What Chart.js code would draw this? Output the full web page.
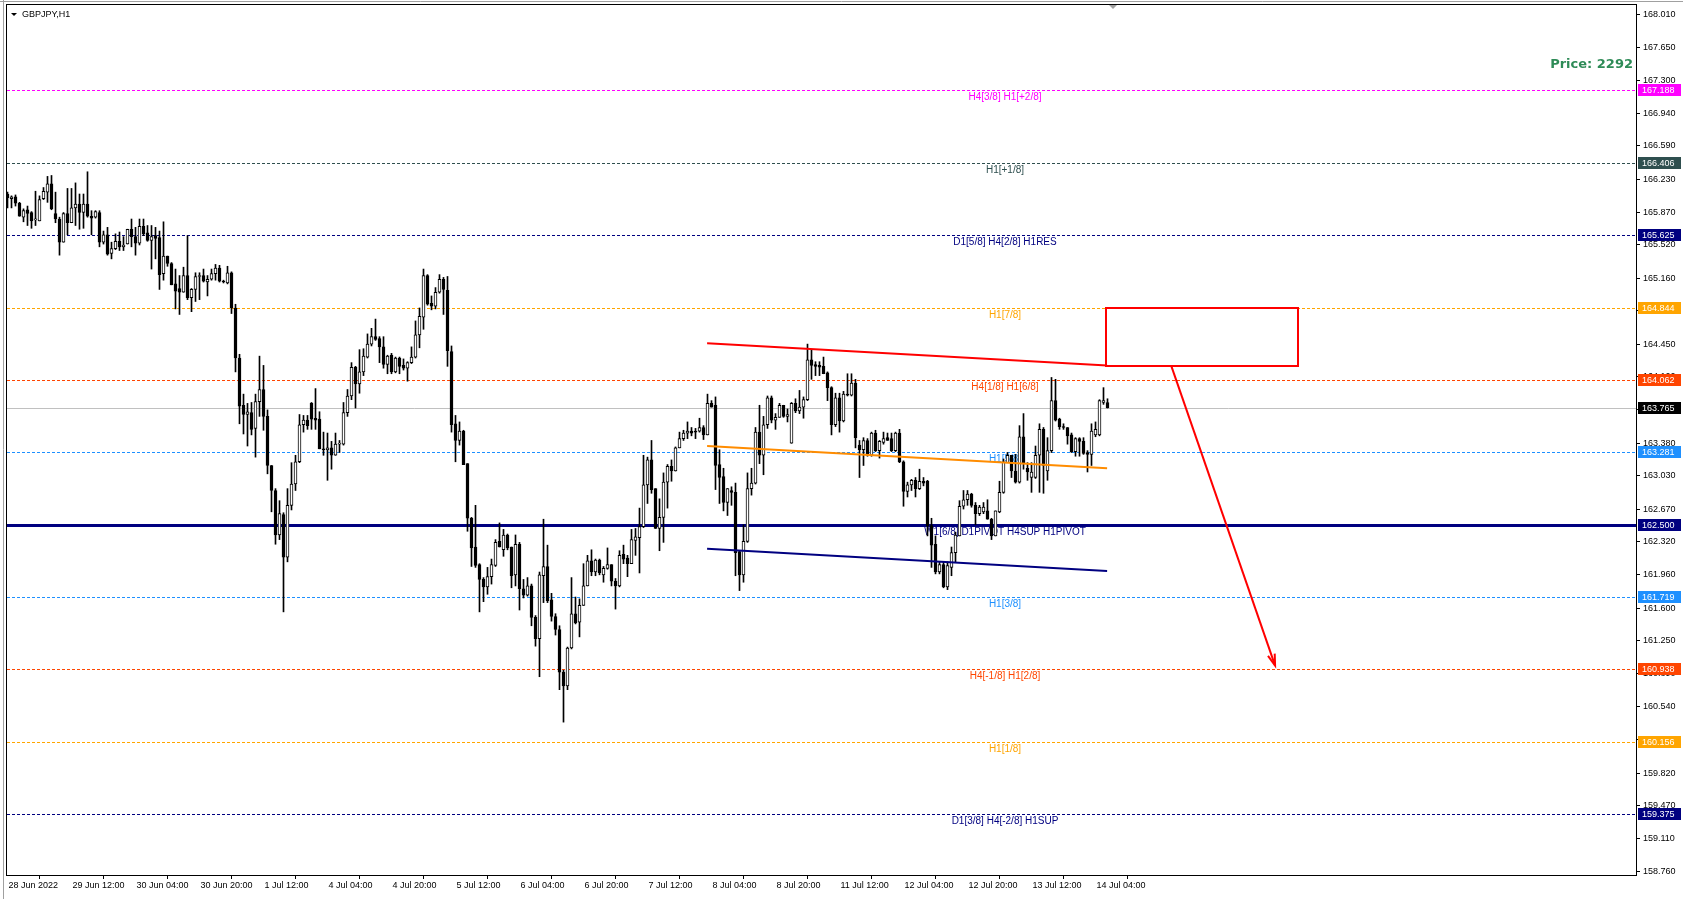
<!DOCTYPE html>
<html>
<head>
<meta charset="utf-8">
<title>GBPJPY,H1</title>
<script src="https://cdn.jsdelivr.net/npm/chart.js@4.4.1/dist/chart.umd.min.js"></script>
<style>
  html, body { margin: 0; padding: 0; background: #fff; overflow: hidden; }
  canvas { display: block; }
</style>
</head>
<body>
<canvas id="chart" width="1683" height="899"></canvas>
<script>
// GBPJPY H1, bar 0 = 28 Jun 2022 20:00, last bar = 14 Jul 07:00
const openPrices = [
  166.07,166.02,166.04,165.97,165.82,165.90,165.87,165.79,165.78,166.02,
  166.09,166.18,165.86,165.80,165.55,165.86,165.76,165.92,165.96,165.87,
  165.96,165.83,165.82,165.87,165.55,165.63,165.43,165.48,165.56,165.50,
  165.53,165.69,165.61,165.54,165.72,165.65,165.57,165.62,165.60,165.21,
  165.40,165.32,165.10,165.05,165.01,165.19,164.95,165.04,165.18,165.19,
  165.12,165.15,165.21,165.27,165.13,165.11,165.22,164.84,164.30,163.79,
  163.69,163.71,163.54,163.83,163.96,163.67,163.14,162.87,162.39,162.61,
  162.15,162.71,162.94,163.18,163.58,163.63,163.81,163.65,163.64,163.32,
  163.31,163.33,163.25,163.37,163.37,163.71,163.89,164.20,164.02,164.15,
  164.31,164.45,164.53,164.51,164.42,164.23,164.33,164.15,164.30,164.22,
  164.19,164.25,164.31,164.55,164.74,165.19,164.89,164.86,165.01,165.15,
  165.03,164.37,163.59,163.41,163.51,163.16,162.57,162.26,162.07,161.91,
  161.83,161.94,162.06,162.32,162.23,162.39,162.26,161.96,162.29,161.81,
  161.74,161.84,161.50,161.27,161.95,162.05,161.69,161.51,161.37,160.91,
  160.76,161.17,161.54,161.45,161.63,161.84,162.11,161.99,162.12,161.96,
  162.03,162.07,161.89,161.84,162.18,162.14,162.08,162.33,162.36,162.48,
  162.93,163.20,162.89,162.46,162.58,162.96,163.13,163.08,163.33,163.43,
  163.49,163.51,163.51,163.51,163.55,163.47,163.81,163.79,163.15,163.02,
  162.74,162.87,162.85,162.21,161.96,162.32,162.89,162.95,163.50,163.25,
  163.58,163.87,163.63,163.66,163.79,163.67,163.38,163.81,163.73,163.77,
  163.85,164.28,164.23,164.22,164.21,164.14,163.98,163.58,163.87,163.62,
  163.91,163.90,164.03,163.36,163.31,163.41,163.25,163.49,163.30,163.39,
  163.44,163.43,163.30,163.49,163.18,162.86,162.93,162.98,162.89,162.97,
  162.97,162.49,162.29,161.99,162.07,161.83,162.04,162.20,162.38,162.70,
  162.77,162.83,162.71,162.62,162.64,162.65,162.56,162.38,162.64,162.85,
  163.17,163.25,163.08,162.96,163.45,163.11,163.01,163.01,163.25,163.53,
  163.08,163.30,163.84,163.64,163.56,163.55,163.47,163.29,163.43,163.40,
  163.28,163.26,163.47,163.47,163.82,163.82
];
const highPrices = [
  166.09,166.05,166.06,165.98,165.91,165.94,165.88,166.10,166.05,166.14,
  166.26,166.27,166.09,165.82,165.87,166.13,166.13,166.19,166.07,166.07,
  166.31,165.89,165.89,165.89,165.67,165.71,165.55,165.64,165.66,165.61,
  165.69,165.80,165.71,165.80,165.80,165.73,165.73,165.71,165.67,165.77,
  165.40,165.33,165.26,165.19,165.28,165.62,165.05,165.22,165.22,165.26,
  165.19,165.26,165.31,165.30,165.14,165.29,165.23,164.88,164.34,163.91,
  163.81,163.82,163.91,164.32,164.22,163.74,163.14,162.89,162.76,162.63,
  162.89,163.17,163.25,163.69,163.68,163.68,163.82,163.97,163.72,163.50,
  163.49,163.40,163.49,163.41,163.82,163.96,164.25,164.21,164.39,164.40,
  164.56,164.62,164.72,164.53,164.53,164.33,164.35,164.31,164.31,164.29,
  164.26,164.42,164.70,164.84,165.26,165.20,164.97,165.06,165.20,165.17,
  165.18,164.43,163.68,163.61,163.52,163.16,162.58,162.71,162.08,161.93,
  162.04,162.13,162.34,162.52,162.45,162.40,162.26,162.39,162.31,161.91,
  161.93,161.86,161.52,161.99,162.56,162.28,161.76,161.54,161.41,160.93,
  161.18,161.93,161.72,161.70,162.08,162.17,162.23,162.13,162.13,162.05,
  162.25,162.07,161.92,162.22,162.28,162.17,162.45,162.46,162.68,163.25,
  163.23,163.41,162.89,162.78,163.06,163.15,163.20,163.34,163.50,163.52,
  163.61,163.55,163.54,163.65,163.57,163.91,163.84,163.88,163.31,163.11,
  162.89,162.91,162.95,162.22,162.50,163.06,163.11,163.55,163.79,163.67,
  163.89,163.89,163.70,163.81,163.79,163.75,163.82,163.86,163.95,163.88,
  164.45,164.39,164.26,164.26,164.31,164.15,163.99,163.92,163.92,163.94,
  164.13,164.13,164.07,163.41,163.44,163.43,163.50,163.52,163.41,163.50,
  163.49,163.49,163.50,163.53,163.19,162.96,162.99,163.01,163.10,163.01,
  162.98,162.57,162.38,162.10,162.10,162.10,162.26,162.42,162.76,162.87,
  162.87,162.84,162.74,162.71,162.74,162.77,162.57,162.65,162.97,163.21,
  163.28,163.25,163.26,163.57,163.70,163.17,163.17,163.35,163.59,163.55,
  163.44,164.09,164.07,163.65,163.59,163.55,163.49,163.44,163.44,163.44,
  163.30,163.59,163.61,163.85,163.98,163.86
];
const lowPrices = [
  165.92,165.92,165.94,165.83,165.77,165.73,165.70,165.73,165.78,166.01,
  165.98,165.90,165.76,165.41,165.55,165.63,165.76,165.73,165.69,165.70,
  165.82,165.63,165.81,165.50,165.53,165.41,165.37,165.47,165.46,165.46,
  165.53,165.50,165.41,165.52,165.62,165.56,165.26,165.37,165.04,165.14,
  165.29,165.09,164.83,164.77,165.01,164.93,164.80,164.91,164.93,165.12,
  164.97,165.14,165.14,165.12,165.11,165.10,164.78,164.15,163.59,163.48,
  163.35,163.47,163.23,163.67,163.52,163.05,162.64,162.29,162.34,161.56,
  162.10,162.66,162.87,163.17,163.50,163.53,163.53,163.53,163.32,163.25,
  162.98,163.10,163.25,163.28,163.36,163.67,163.85,163.76,163.92,164.11,
  164.30,164.43,164.49,164.25,164.19,164.13,164.13,164.14,164.13,164.17,
  164.05,164.24,164.30,164.41,164.61,164.87,164.82,164.83,165.00,164.77,
  164.21,163.50,163.18,163.36,163.15,162.43,162.05,162.04,161.56,161.67,
  161.75,161.86,162.05,162.26,162.16,162.23,161.82,161.84,161.58,161.71,
  161.73,161.41,161.19,160.86,161.66,161.66,161.46,161.31,160.72,160.37,
  160.72,161.16,161.43,161.29,161.63,161.84,161.95,161.95,161.96,161.88,
  162.02,161.84,161.59,161.83,162.08,161.94,162.08,162.17,161.98,162.47,
  162.73,162.84,162.46,162.22,162.31,162.68,162.97,163.08,163.33,163.41,
  163.43,163.46,163.43,163.50,163.42,163.47,163.77,162.88,162.73,162.65,
  162.60,162.71,161.95,161.79,161.88,162.31,162.82,162.94,163.16,163.04,
  163.54,163.60,163.53,163.66,163.66,163.61,163.38,163.71,163.70,163.65,
  163.84,164.07,164.11,164.11,164.13,163.84,163.47,163.56,163.50,163.61,
  163.89,163.89,163.33,163.01,163.14,163.24,163.24,163.29,163.22,163.37,
  163.41,163.29,163.29,163.17,162.70,162.80,162.87,162.80,162.88,162.92,
  162.38,162.04,161.97,161.97,161.82,161.80,161.95,162.10,162.38,162.67,
  162.71,162.69,162.50,162.60,162.62,162.56,162.34,162.38,162.63,162.84,
  163.17,163.01,162.95,162.95,163.10,162.98,162.85,163.00,162.85,162.84,
  162.98,163.28,163.62,163.53,163.53,163.37,163.28,163.24,163.24,163.26,
  163.07,163.14,163.45,163.46,163.80,163.76
];
const closePrices = [
  166.03,166.04,165.97,165.83,165.89,165.86,165.78,165.79,166.01,166.10,
  166.18,165.91,165.80,165.55,165.86,165.76,165.92,165.96,165.87,165.96,
  165.83,165.81,165.88,165.55,165.63,165.42,165.48,165.56,165.50,165.52,
  165.69,165.61,165.54,165.72,165.64,165.57,165.61,165.59,165.20,165.40,
  165.32,165.09,165.02,165.01,165.19,164.95,165.04,165.18,165.19,165.13,
  165.15,165.21,165.27,165.13,165.12,165.22,164.84,164.30,163.78,163.69,
  163.72,163.53,163.83,163.96,163.67,163.14,162.87,162.39,162.62,162.15,
  162.71,162.94,163.18,163.58,163.63,163.57,163.64,163.63,163.32,163.31,
  163.33,163.25,163.37,163.37,163.71,163.89,164.20,164.02,164.15,164.32,
  164.45,164.53,164.50,164.42,164.23,164.32,164.15,164.30,164.21,164.19,
  164.25,164.31,164.55,164.75,165.19,164.88,164.86,165.01,165.15,165.04,
  164.38,163.58,163.41,163.51,163.15,162.57,162.25,162.06,161.91,161.83,
  161.94,162.07,162.31,162.26,162.39,162.25,161.95,162.29,161.81,161.74,
  161.84,161.50,161.27,161.96,162.05,161.68,161.51,161.37,160.91,160.76,
  161.17,161.54,161.44,161.63,161.84,162.11,161.99,162.12,161.98,162.03,
  162.07,161.89,161.84,162.17,162.13,162.08,162.34,162.37,162.48,162.93,
  163.20,162.88,162.46,162.58,162.96,163.13,163.08,163.33,163.43,163.49,
  163.51,163.49,163.50,163.55,163.47,163.81,163.77,163.14,163.01,162.74,
  162.89,162.85,162.20,161.96,162.32,162.89,162.95,163.50,163.25,163.58,
  163.87,163.63,163.66,163.79,163.67,163.69,163.81,163.73,163.77,163.85,
  164.28,164.22,164.21,164.20,164.13,163.98,163.58,163.87,163.62,163.91,
  163.90,164.03,163.44,163.31,163.41,163.25,163.49,163.30,163.40,163.43,
  163.41,163.30,163.49,163.18,162.86,162.93,162.98,162.89,162.97,162.95,
  162.49,162.28,161.99,162.07,161.83,162.06,162.20,162.39,162.70,162.77,
  162.83,162.71,162.62,162.69,162.69,162.56,162.38,162.65,162.85,163.18,
  163.25,163.08,162.96,163.45,163.17,163.07,163.07,163.25,163.53,163.14,
  163.30,163.84,163.63,163.56,163.55,163.46,163.29,163.43,163.40,163.27,
  163.26,163.51,163.53,163.84,163.84,163.765
];

const xTickIdx = [0,16,32,48,64,80,96,112,128,144,160,176,192,208,224,240,256,272];
const xTickLabels = ['28 Jun 2022','29 Jun 12:00','30 Jun 04:00','30 Jun 20:00','1 Jul 12:00',
  '4 Jul 04:00','4 Jul 20:00','5 Jul 12:00','6 Jul 04:00','6 Jul 20:00','7 Jul 12:00',
  '8 Jul 04:00','8 Jul 20:00','11 Jul 12:00','12 Jul 04:00','12 Jul 20:00','13 Jul 12:00','14 Jul 04:00'];
const yTickValues = [168.010,167.650,167.300,166.940,166.590,166.230,165.870,165.520,165.160,
  164.810,164.450,164.100,163.740,163.380,163.030,162.670,162.320,161.960,161.600,161.250,
  160.890,160.540,160.180,159.820,159.470,159.110,158.760];

// Murrey-math style levels
const levelPrices = [167.188,166.406,165.625,164.844,164.062,163.281,162.500,161.719,160.938,160.156,159.375];
const levelNames = ['H4[3/8] H1[+2/8]','H1[+1/8]','D1[5/8] H4[2/8] H1RES','H1[7/8]','H4[1/8] H1[6/8]',
  'H1[5/8]','W1[6/8] D1PIVOT H4SUP H1PIVOT','H1[3/8]','H4[-1/8] H1[2/8]','H1[1/8]','D1[3/8] H4[-2/8] H1SUP'];
const levelColors = ['#ff00ff','#2f4f4f','#000080','#ffa500','#ff4500','#1e90ff','#000080','#1e90ff','#ff4500','#ffa500','#000080'];
const levelWidths = [1,1,1,1,1,1,3,1,1,1,1];
const levelDashed = [true,true,true,true,true,true,false,true,true,true,true];
const lastPrice = 163.765;

// drawn objects (bar index, price)
const trendTime = [174.9, 274.9];
const redTrend = [164.46, 164.22];
const orangeTrend = [163.35, 163.11];
const navyTrend = [162.24, 162.00];
const zoneTime = [274.6, 322.6];
const zonePrice = [164.844, 164.22];
const arrowTime = [290.9, 316.9];
const arrowPrice = [164.22, 160.98];

const wicks = highPrices.map((h, i) => ({x: i, y: [lowPrices[i], h]}));
const bodies = openPrices.map((o, i) => ({x: i, y: [o, closePrices[i]]}));
const bodyFill = openPrices.map((o, i) => closePrices[i] >= o ? '#ffffff' : '#000000');
const trendData = (vals) => vals.map((v, k) => ({x: trendTime[k], y: v}));

const FONT = '"Liberation Sans", Arial, sans-serif';

const overlay = {
    id: 'overlay',
    beforeDraw(chart) {
        const c = chart.ctx;
        c.save();
        c.fillStyle = '#fff';
        c.fillRect(0, 0, chart.width, chart.height);
        c.restore();
    },
    beforeDatasetsDraw(chart) {
        const {ctx: c, chartArea: a, scales: {y}} = chart;
        c.save();
        c.beginPath();
        c.rect(a.left, a.top, a.right - a.left, a.bottom - a.top);
        c.clip();
        let py = Math.round(y.getPixelForValue(lastPrice)) + 0.5;
        c.strokeStyle = '#c0c0c0';
        c.lineWidth = 1;
        c.beginPath(); c.moveTo(a.left, py); c.lineTo(a.right, py); c.stroke();
        c.font = '10px ' + FONT;
        c.textAlign = 'center';
        c.textBaseline = 'middle';
        levelPrices.forEach((p, k) => {
            const w = levelWidths[k];
            py = Math.round(y.getPixelForValue(p)) + 0.5;
            c.strokeStyle = levelColors[k];
            c.lineWidth = w;
            c.setLineDash(levelDashed[k] ? [3, 2] : []);
            c.beginPath(); c.moveTo(a.left, py); c.lineTo(a.right, py); c.stroke();
            c.setLineDash([]);
            c.fillStyle = levelColors[k];
            c.fillText(levelNames[k], 1005, py + 7);
        });
        c.restore();
    },
    afterDatasetsDraw(chart) {
        const {ctx: c, chartArea: a, scales: {x, y}} = chart;
        c.save();
        c.beginPath();
        c.rect(a.left, a.top, a.right - a.left, a.bottom - a.top);
        c.clip();
        c.strokeStyle = '#ff0000';
        c.lineWidth = 2;
        const x0 = x.getPixelForValue(zoneTime[0]), x1 = x.getPixelForValue(zoneTime[1]);
        const y0 = y.getPixelForValue(zonePrice[0]), y1 = y.getPixelForValue(zonePrice[1]);
        c.strokeRect(Math.round(x0), Math.round(y0), Math.round(x1 - x0), Math.round(y1 - y0));
        const ax0 = x.getPixelForValue(arrowTime[0]), ay0 = y.getPixelForValue(arrowPrice[0]);
        const ax1 = x.getPixelForValue(arrowTime[1]), ay1 = y.getPixelForValue(arrowPrice[1]);
        c.beginPath(); c.moveTo(ax0, ay0); c.lineTo(ax1, ay1); c.stroke();
        const ang = Math.atan2(ay1 - ay0, ax1 - ax0);
        c.beginPath();
        c.moveTo(ax1 - 12 * Math.cos(ang - 0.3), ay1 - 12 * Math.sin(ang - 0.3));
        c.lineTo(ax1, ay1);
        c.lineTo(ax1 - 12 * Math.cos(ang + 0.3), ay1 - 12 * Math.sin(ang + 0.3));
        c.stroke();
        c.restore();
    },
    afterDraw(chart) {
        const {ctx: c, chartArea: a, scales: {y}} = chart;
        c.save();
        // window + chart frame
        c.strokeStyle = '#a0a0a0';
        c.lineWidth = 1;
        c.beginPath(); c.moveTo(3.5, 0); c.lineTo(3.5, chart.height); c.stroke();
        c.beginPath(); c.moveTo(0, 1.5); c.lineTo(chart.width, 1.5); c.stroke();
        c.strokeStyle = '#000';
        c.strokeRect(a.left - 0.5, a.top - 0.5, a.right - a.left + 1, a.bottom - a.top + 1);
        // shift marker
        c.fillStyle = '#a0a0a0';
        c.beginPath(); c.moveTo(1109, a.top); c.lineTo(1117, a.top); c.lineTo(1113, a.top + 4); c.fill();
        // symbol caption
        c.fillStyle = '#000';
        c.beginPath(); c.moveTo(11, 13); c.lineTo(17, 13); c.lineTo(14, 16); c.fill();
        c.font = '9px ' + FONT;
        c.textAlign = 'left';
        c.textBaseline = 'middle';
        c.fillText('GBPJPY,H1', 22, 15);
        // price boxes on the axis
        const boxes = levelPrices.map((p, k) => [p, levelColors[k]]).concat([[lastPrice, '#000000']]);
        boxes.forEach(([p, col]) => {
            const py = Math.round(y.getPixelForValue(p));
            c.fillStyle = col;
            c.fillRect(a.right + 2, py - 6, 43, 12);
            c.fillStyle = '#fff';
            c.fillText(p.toFixed(3), a.right + 6, py + 0.5);
        });
        // price caption
        c.font = 'bold 13px "DejaVu Sans", sans-serif';
        c.textAlign = 'right';
        c.fillStyle = '#2e8b57';
        c.fillText('Price: 2292', 1633, 65);
        c.restore();
    }
};

const ctx = document.getElementById('chart').getContext('2d');

new Chart(ctx, {
    type: 'bar',
    data: {
        datasets: [
            {type: 'line', data: trendData(redTrend), borderColor: '#ff0000', borderWidth: 2, pointRadius: 0, fill: false},
            {type: 'line', data: trendData(orangeTrend), borderColor: '#ff8c00', borderWidth: 2, pointRadius: 0, fill: false},
            {type: 'line', data: trendData(navyTrend), borderColor: '#000080', borderWidth: 2, pointRadius: 0, fill: false},
            {
                type: 'bar',
                data: bodies,
                backgroundColor: bodyFill,
                borderColor: '#000000',
                borderWidth: 1,
                borderSkipped: false,
                barThickness: 3,
                minBarLength: 1,
                grouped: false
            },
            {
                type: 'bar',
                data: wicks,
                backgroundColor: '#000000',
                borderWidth: 0,
                barThickness: 1,
                grouped: false
            }
        ]
    },
    options: {
        responsive: false,
        animation: false,
        events: [],
        layout: { padding: { left: 7, top: 5, right: 0, bottom: 0 } },
        plugins: {
            legend: { display: false },
            tooltip: { enabled: false }
        },
        scales: {
            x: {
                type: 'linear',
                min: -0.125,
                max: 407.125,
                offset: false,
                afterBuildTicks: (scale) => { scale.ticks = xTickIdx.map(v => ({value: v})); },
                afterFit: (scale) => {
                    scale.height = 24;
                    scale.paddingLeft = 0; scale.paddingRight = 0;
                },
                grid: { drawOnChartArea: false, drawTicks: true, tickLength: 4, color: '#000' },
                border: { display: false },
                ticks: {
                    autoSkip: false,
                    maxRotation: 0,
                    minRotation: 0,
                    align: 'start',
                    labelOffset: 1,
                    padding: 1,
                    color: '#000',
                    font: { family: FONT, size: 9 },
                    callback: (v, i) => xTickLabels[i]
                }
            },
            y: {
                position: 'right',
                min: 158.72,
                max: 168.11,
                afterBuildTicks: (scale) => { scale.ticks = yTickValues.map(v => ({value: v})); },
                afterFit: (scale) => {
                    scale.width = 47;
                    scale.paddingTop = 0; scale.paddingBottom = 0;
                },
                grid: { drawOnChartArea: false, drawTicks: true, tickLength: 4, color: '#000' },
                border: { display: false },
                ticks: {
                    autoSkip: false,
                    padding: 3,
                    color: '#000',
                    font: { family: FONT, size: 9 },
                    callback: (v) => v.toFixed(3)
                }
            }
        }
    },
    plugins: [overlay]
});
</script>
</body>
</html>
